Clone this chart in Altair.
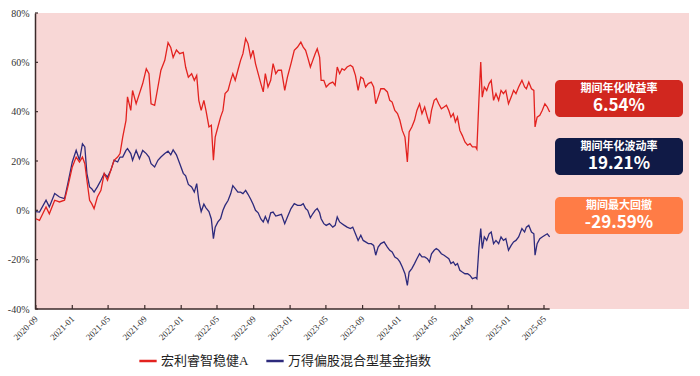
import altair as alt
import pandas as pd

# ---------------- data ----------------
dates = [
    "2020-09-01", "2020-09-13", "2020-10-05", "2020-10-16", "2020-11-03", "2020-11-19",
    "2020-12-06", "2020-12-17", "2021-01-01", "2021-01-14", "2021-01-25", "2021-02-04",
    "2021-02-12", "2021-02-19", "2021-02-28", "2021-03-07", "2021-03-15", "2021-03-26",
    "2021-04-07", "2021-04-18", "2021-04-29", "2021-05-10", "2021-05-21", "2021-06-02",
    "2021-06-10", "2021-06-19", "2021-06-30", "2021-07-05", "2021-07-16", "2021-07-22",
    "2021-08-03", "2021-08-14", "2021-08-25", "2021-09-06", "2021-09-15", "2021-09-22",
    "2021-10-04", "2021-10-15", "2021-10-25",
    "2021-11-07", "2021-11-18", "2021-11-27", "2021-12-05", "2021-12-16", "2021-12-27",
    "2022-01-08", "2022-01-16", "2022-01-25", "2022-02-05", "2022-02-14", "2022-02-22",
    "2022-03-01", "2022-03-09", "2022-03-18", "2022-03-25", "2022-04-04", "2022-04-12",
    "2022-04-19", "2022-04-25", "2022-05-04", "2022-05-13", "2022-05-21", "2022-05-28",
    "2022-06-07", "2022-06-16", "2022-06-23", "2022-07-01", "2022-07-10", "2022-07-19",
    "2022-07-27", "2022-08-05", "2022-08-13", "2022-08-22", "2022-08-30", "2022-09-07",
    "2022-09-16", "2022-09-25", "2022-10-03", "2022-10-10", "2022-10-19", "2022-10-28",
    "2022-11-05", "2022-11-14", "2022-11-22", "2022-12-03", "2022-12-14", "2022-12-23",
    "2023-01-04", "2023-01-15", "2023-01-26",
    "2023-02-06", "2023-02-14", "2023-02-22", "2023-03-01", "2023-03-10", "2023-03-18",
    "2023-03-26", "2023-04-02", "2023-04-10", "2023-04-15", "2023-04-24", "2023-05-02",
    "2023-05-13", "2023-05-24", "2023-06-01", "2023-06-08", "2023-06-16", "2023-06-24",
    "2023-07-02", "2023-07-11", "2023-07-22", "2023-07-30", "2023-08-08", "2023-08-17",
    "2023-08-26", "2023-09-03", "2023-09-11", "2023-09-20", "2023-09-30", "2023-10-08",
    "2023-10-15", "2023-10-23", "2023-11-01", "2023-11-12", "2023-11-23", "2023-12-01",
    "2023-12-09", "2023-12-18", "2023-12-27", "2024-01-04", "2024-01-12", "2024-01-21",
    "2024-01-29", "2024-02-04", "2024-02-13", "2024-02-22", "2024-03-01", "2024-03-10",
    "2024-03-18",
    "2024-03-27", "2024-04-05", "2024-04-12", "2024-04-19", "2024-04-28", "2024-05-05",
    "2024-05-13", "2024-05-22", "2024-05-31", "2024-06-08", "2024-06-16", "2024-06-23",
    "2024-07-01", "2024-07-08", "2024-07-15", "2024-07-23", "2024-07-31", "2024-08-09",
    "2024-08-18", "2024-08-26", "2024-09-03", "2024-09-14", "2024-09-18", "2024-09-25",
    "2024-10-01", "2024-10-06", "2024-10-13", "2024-10-21", "2024-10-29", "2024-11-05",
    "2024-11-13", "2024-11-21", "2024-11-30", "2024-12-08", "2024-12-16", "2024-12-24",
    "2025-01-02", "2025-01-11", "2025-01-19", "2025-01-27", "2025-02-05", "2025-02-16",
    "2025-02-25", "2025-03-03", "2025-03-11", "2025-03-20", "2025-03-28", "2025-04-01",
    "2025-04-08", "2025-04-17", "2025-04-25", "2025-05-04", "2025-05-12", "2025-05-20",
]

fund = [
    -3.4, -4.1, 1.4, -1.4, 4.1, 3.4,
    4.1, 9.5, 17.6, 21.6, 19.6, 21.6,
    18.9, 12.2, 4.1, 2.7, 0.7, 5.4,
    8.1, 14.9, 12.2, 16.2, 20.3, 21.6,
    23.0, 29.7, 36.5, 46.0, 40.5, 48.6,
    43.2, 47.3, 51.4, 57.4, 55.4, 43.2,
    42.6, 50.0, 56.8,
    60.8, 68.0, 66.0, 62.0, 65.0, 63.5,
    64.0, 58.0, 54.0, 55.4, 52.7, 54.7,
    44.6, 40.5, 44.6, 40.5, 33.8, 34.5,
    20.3, 29.7, 33.8, 37.8, 40.5, 47.3,
    48.6, 52.7, 55.4, 52.7, 56.8, 60.8,
    63.5, 69.6, 67.6, 62.0, 64.9, 59.5,
    55.4, 51.4, 48.0, 55.4, 50.0, 52.7,
    59.5, 55.4, 56.8, 56.8, 48.6, 54.0,
    59.5, 64.9, 66.2,
    68.2, 66.2, 64.9, 62.0, 58.1, 60.8,
    63.5, 65.5, 62.0, 52.7, 52.7, 50.0,
    51.4, 52.0, 50.7, 58.1, 55.4, 57.4,
    56.8, 58.1, 58.8, 58.1, 54.7, 48.6,
    54.0, 53.4, 50.0, 51.4, 52.0, 50.0,
    43.2, 45.9, 49.3, 49.3, 48.0, 44.6,
    43.9, 40.5, 39.2, 36.5, 32.4, 29.7,
    19.6, 31.8, 33.8, 36.5, 40.5, 43.2,
    39.2,
    41.9, 37.8, 35.1, 40.5, 44.6, 45.3,
    43.2, 41.2, 41.9, 42.6, 40.5, 37.8,
    39.2, 35.8, 37.8, 32.4, 30.4, 27.7,
    26.4, 27.0, 25.7, 25.7, 24.8, 45.0,
    60.1, 45.9, 50.0, 48.6, 51.4, 52.7,
    44.6, 47.3, 44.6, 48.6, 47.3, 48.6,
    43.2, 45.9, 48.6, 47.3, 50.0, 52.7,
    50.0, 49.3, 52.0, 49.3, 48.6, 33.8,
    37.8, 38.5, 40.5, 43.2, 41.9, 39.9,
]

index = [
    -0.5, -0.7, 4.1, 1.4, 6.8, 5.4,
    4.7, 10.8, 19.6, 24.3, 20.3, 27.0,
    25.7, 14.9, 9.5, 8.8, 7.4, 9.5,
    12.2, 14.9, 13.5, 16.2, 20.3, 19.6,
    21.6, 21.6, 24.3, 25.0, 23.0, 20.3,
    24.3, 20.9, 24.3, 23.0, 21.6, 18.9,
    17.6, 20.3, 21.6,
    23.0, 24.0, 22.5, 24.5, 22.5, 19.0,
    15.0, 14.0, 10.5, 9.5, 7.4, 10.8,
    4.0, -0.5, 2.5, 1.0, -0.5, -3.5,
    -11.5, -6.8, -4.7, -3.4, 0.0, 2.0,
    4.0, 6.8, 10.0, 8.8, 7.4, 7.4,
    6.8, 8.1, 6.5, 4.5, 2.5, 0.0,
    -1.0, -3.5, -4.7, -2.5, -5.0, -1.0,
    -0.7, -2.3, -2.0, -1.6, -5.4, -2.7,
    0.7, 2.7, 2.0,
    2.0, 2.7, 0.7, 0.0, -3.0, -1.4,
    0.0, 0.7, -1.0, -3.4, -5.4, -6.1,
    -5.4, -6.8, -6.1, -2.7, -4.7, -5.4,
    -6.1, -6.8, -7.4, -6.8, -9.5, -12.2,
    -10.1, -12.2, -12.8, -13.5, -13.5, -14.2,
    -18.2, -14.9, -13.5, -12.8, -14.9, -16.2,
    -16.9, -18.9, -19.6, -20.9, -23.0, -25.7,
    -30.4, -25.0, -23.6, -21.6, -19.6, -17.6,
    -18.9,
    -18.9, -19.6, -20.9, -17.6, -16.2, -15.5,
    -16.2, -17.6, -18.2, -18.9, -19.6, -21.6,
    -20.9, -22.3, -21.6, -24.3, -25.0, -25.7,
    -25.7, -26.4, -27.7, -27.2, -27.7, -15.0,
    -7.4, -15.5, -10.8, -12.2, -9.5, -8.8,
    -13.5, -12.2, -13.5, -10.8, -12.2, -11.5,
    -16.2, -14.2, -12.8, -12.2, -10.8, -7.4,
    -8.8, -6.8, -6.1, -8.8, -9.5, -18.2,
    -13.5, -11.5, -10.8, -10.1, -9.5, -10.8,
]

series_names = ["宏利睿智稳健A", "万得偏股混合型基金指数"]
series_colors = ["#E3221F", "#2D2A7C"]

x_tick_dates = [
    (2020, 9), (2021, 1), (2021, 5), (2021, 9), (2022, 1), (2022, 5), (2022, 9),
    (2023, 1), (2023, 5), (2023, 9), (2024, 1), (2024, 5), (2024, 9), (2025, 1), (2025, 5),
]
y_ticks = [-40, -20, 0, 20, 40, 60, 80]

stat_titles = ["期间年化收益率", "期间年化波动率", "期间最大回撤"]
stat_values = ["6.54%", "19.21%", "-29.59%"]
stat_colors = ["#D1271F", "#101A46", "#FF7C46"]

# ---------------- styling ----------------
W, H = 654, 296
AXIS_COLOR = "#3B2A2A"
PINK = "#F8D7D6"
SERIF = "Liberation Serif"
CJK = "Noto Sans CJK SC"

df = pd.DataFrame({"date": pd.to_datetime(dates), "fund": fund, "index": index})
df_fund = pd.DataFrame({"date": df["date"], "val": df["fund"], "series": series_names[0]})
df_index = pd.DataFrame({"date": df["date"], "val": df["index"], "series": series_names[1]})
df_xt = pd.DataFrame({"date": [pd.Timestamp(year=y, month=m, day=1) for (y, m) in x_tick_dates]})
df_yt = pd.DataFrame({"v": y_ticks})

x_scale = alt.Scale(domain=[alt.DateTime(year=2020, month=8, date=29),
                            alt.DateTime(year=2026, month=8, date=30)])
y_scale = alt.Scale(domain=[-40, 80], nice=False, zero=False)

x_axis = alt.Axis(
    values=[alt.DateTime(year=y, month=m, date=1) for (y, m) in x_tick_dates],
    format="%Y-%m", labelAngle=315, labelAlign="right", labelBaseline="middle",
    labelFont=SERIF, labelFontSize=9, labelColor="#333333", labelPadding=8,
    domain=False, ticks=False, grid=False, title=None, labelOverlap=False,
)
y_axis = alt.Axis(
    values=y_ticks, labelExpr="datum.value + '%'",
    labelFont=SERIF, labelFontSize=10, labelColor="#333333", labelPadding=6,
    domain=True, domainColor=AXIS_COLOR, domainWidth=1.5,
    ticks=False, grid=False, title=None,
)

color_enc = alt.Color(
    "series:N",
    scale=alt.Scale(domain=series_names, range=series_colors),
    sort=series_names,
    legend=alt.Legend(
        title=None, orient="none", legendX=103, legendY=338, direction="horizontal",
        symbolType="stroke", symbolStrokeWidth=2.5, symbolSize=300,
        labelFont=f"{SERIF}, {CJK}", labelFontSize=13, labelColor="#222222",
        columnPadding=12, labelOffset=3,
    ),
)

line_fund = alt.Chart(df_fund).mark_line(strokeWidth=1.3).encode(
    x=alt.X("date:T", scale=x_scale, axis=x_axis),
    y=alt.Y("val:Q", scale=y_scale, axis=y_axis),
    color=color_enc,
)
line_index = alt.Chart(df_index).mark_line(strokeWidth=1.3).encode(
    x=alt.X("date:T", scale=x_scale),
    y=alt.Y("val:Q", scale=y_scale),
    color=color_enc,
)

x_axis_line = alt.Chart(df_fund).mark_rule(color=AXIS_COLOR, strokeWidth=1.5).encode(
    x=alt.X("min(date):T", scale=x_scale),
    x2="max(date):T",
    y=alt.value(H),
)
x_tick_marks = alt.Chart(df_xt).mark_rule(color=AXIS_COLOR, strokeWidth=1.2).encode(
    x=alt.X("date:T", scale=x_scale), y=alt.value(H - 4), y2=alt.value(H)
)
y_tick_marks = alt.Chart(df_yt).mark_rule(color=AXIS_COLOR, strokeWidth=1.2).encode(
    y=alt.Y("v:Q", scale=y_scale), x=alt.value(0), x2=alt.value(3)
)

# ---------------- stat boxes ----------------
box_tops = [67, 125, 184]
box_h = 37
layers = [line_index, line_fund, x_axis_line, x_tick_marks, y_tick_marks]
for i in range(3):
    one = pd.DataFrame({"t": [stat_titles[i]], "v": [stat_values[i]]})
    top = box_tops[i]
    box = alt.Chart(one).mark_rect(color=stat_colors[i], cornerRadius=5).encode(
        x=alt.value(520), x2=alt.value(648), y=alt.value(top), y2=alt.value(top + box_h)
    )
    title_txt = alt.Chart(one).mark_text(
        font=CJK, fontSize=11, fontWeight="bold", color="white",
        align="center", baseline="middle",
    ).encode(text="t:N", x=alt.value(584), y=alt.value(top + 8.5))
    value_txt = alt.Chart(one).mark_text(
        font=CJK, fontSize=17, fontWeight="bold", color="white",
        align="center", baseline="middle",
    ).encode(text="v:N", x=alt.value(584), y=alt.value(top + 26))
    layers += [box, title_txt, value_txt]

chart = alt.layer(*layers).properties(
    width=W, height=H,
    autosize=alt.AutoSizeParams(type="none"),
    padding={"left": 35, "top": 13, "right": 11, "bottom": 67},
    background="white",
).configure_view(fill=PINK, stroke=None)

chart.save("out.html", embed_options={"renderer": "svg", "actions": False})
